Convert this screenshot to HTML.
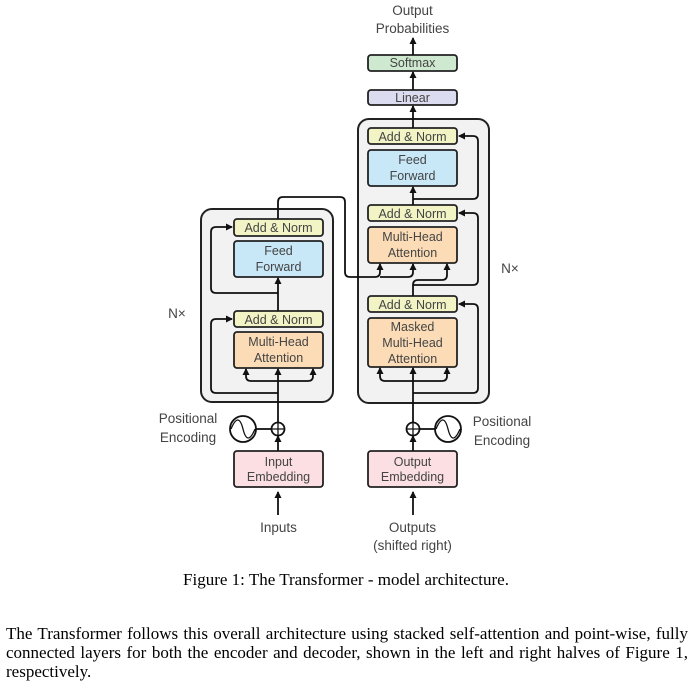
<!DOCTYPE html>
<html><head><meta charset="utf-8"><style>
body{margin:0;background:#fff;width:700px;height:687px;overflow:hidden}
svg{position:absolute;left:0;top:0}
.t{font-family:"Liberation Sans",sans-serif;font-size:12.5px;fill:#444;text-anchor:middle}
.cap{position:absolute;left:0;width:692px;top:570px;text-align:center;font-family:"Liberation Serif",serif;font-size:17px;color:#000}
.par{position:absolute;left:6px;width:682px;top:624px;font-family:"Liberation Serif",serif;font-size:17px;line-height:19px;color:#000}
.j{text-align:justify;text-align-last:justify;white-space:nowrap}
</style></head><body>
<svg width="700" height="600" viewBox="0 0 700 600">
<defs><marker id="a" markerWidth="8" markerHeight="8" refX="6" refY="4" orient="auto" markerUnits="userSpaceOnUse"><path d="M0,0.5 L7,4 L0,7.5 z" fill="#111"/></marker></defs>
<g stroke="#222" stroke-width="2" fill="none">
<rect x="201" y="209" width="132" height="193" rx="11" fill="#f2f2f2"/>
<rect x="358" y="119" width="131" height="284" rx="11" fill="#f2f2f2"/>
</g>
<g stroke="#222" stroke-width="1.8">
<rect x="234" y="219" width="89" height="17" rx="3" fill="#f2f4c6"/>
<rect x="234" y="241" width="89" height="36" rx="3" fill="#c8e8f7"/>
<rect x="234" y="311" width="89" height="16" rx="3" fill="#f2f4c6"/>
<rect x="234" y="332" width="89" height="36" rx="3" fill="#fcdcb6"/>
<rect x="368" y="128" width="89" height="16" rx="3" fill="#f2f4c6"/>
<rect x="368" y="150" width="89" height="36" rx="3" fill="#c8e8f7"/>
<rect x="368" y="205" width="89" height="16" rx="3" fill="#f2f4c6"/>
<rect x="368" y="227" width="89" height="36" rx="3" fill="#fcdcb6"/>
<rect x="368" y="296" width="89" height="16" rx="3" fill="#f2f4c6"/>
<rect x="368" y="318" width="89" height="49" rx="3" fill="#fcdcb6"/>
<rect x="368" y="90" width="89" height="15" rx="3" fill="#dcdcf0"/>
<rect x="368" y="55" width="89" height="16" rx="3" fill="#cfe9d0"/>
<rect x="234" y="451" width="89" height="36" rx="3" fill="#fbdfe2"/>
<rect x="368" y="451" width="89" height="36" rx="3" fill="#fbdfe2"/>
</g>
<g stroke="#111" stroke-width="1.8" fill="none">
<path d="M278 515 V 492" marker-end="url(#a)"/>
<path d="M278 451 V 436" marker-end="url(#a)"/>
<path d="M278 423 V 369" marker-end="url(#a)"/>
<path d="M278 381 H 251 Q246 381 246 376 V 369" marker-end="url(#a)"/>
<path d="M278 381 H 308 Q313 381 313 376 V 369" marker-end="url(#a)"/>
<path d="M278 393 H 216 Q211 393 211 388 V 324 Q211 319 216 319 H 232" marker-end="url(#a)"/>
<path d="M278 311 V 278" marker-end="url(#a)"/>
<path d="M278 293 H 216 Q211 293 211 288 V 232 Q211 227 216 227 H 232" marker-end="url(#a)"/>
<path d="M278 219 V 202 Q278 197 283 197 H 340 Q345 197 345 202 V 272 Q345 277 350 277 H 375 Q380 277 380 272 V 264" marker-end="url(#a)"/>
<path d="M380 277 H 408 Q413 277 413 272 V 264" marker-end="url(#a)"/>
<path d="M413 515 V 492" marker-end="url(#a)"/>
<path d="M413 451 V 436" marker-end="url(#a)"/>
<path d="M413 423 V 368" marker-end="url(#a)"/>
<path d="M413 381 H 385 Q380 381 380 376 V 368" marker-end="url(#a)"/>
<path d="M413 381 H 442 Q447 381 447 376 V 368" marker-end="url(#a)"/>
<path d="M413 393 H 473 Q478 393 478 388 V 309 Q478 304 473 304 H 459" marker-end="url(#a)"/>
<path d="M413 296 V 285 Q413 280 418 280 H 442 Q447 280 447 275 V 264" marker-end="url(#a)"/>
<path d="M413 285 H 473 Q478 285 478 280 V 218 Q478 213 473 213 H 459" marker-end="url(#a)"/>
<path d="M413 205 V 187" marker-end="url(#a)"/>
<path d="M413 199 H 473 Q478 199 478 194 V 141 Q478 136 473 136 H 459" marker-end="url(#a)"/>
<path d="M413 128 V 106" marker-end="url(#a)"/>
<path d="M413 90 V 72" marker-end="url(#a)"/>
<path d="M413 55 V 38" marker-end="url(#a)"/>
<circle cx="278" cy="429" r="6.5" fill="#fff"/>
<path d="M271.5 429 H284.5 M278 422.5 V435.5" stroke-width="1.3"/>
<circle cx="413" cy="429" r="6.5" fill="#fff"/>
<path d="M406.5 429 H419.5 M413 422.5 V435.5" stroke-width="1.3"/>
<path d="M256 429 H271.5"/>
<path d="M419.5 429 H435"/>
<circle cx="243" cy="429" r="13" fill="#fff"/>
<path d="M231 429 C236 417 240 417 243 429 C246 441 250 441 255 429" stroke-width="1.3"/>
<circle cx="448" cy="429" r="13" fill="#fff"/>
<path d="M436 429 C441 417 445 417 448 429 C451 441 455 441 460 429" stroke-width="1.3"/>
</g>
<g class="t">
<text x="278.5" y="232">Add &amp; Norm</text>
<text x="278.5" y="255">Feed</text><text x="278.5" y="271">Forward</text>
<text x="278.5" y="324">Add &amp; Norm</text>
<text x="278.5" y="346">Multi-Head</text><text x="278.5" y="362">Attention</text>
<text x="412.5" y="141">Add &amp; Norm</text>
<text x="412.5" y="164">Feed</text><text x="412.5" y="180">Forward</text>
<text x="412.5" y="218">Add &amp; Norm</text>
<text x="412.5" y="241">Multi-Head</text><text x="412.5" y="257">Attention</text>
<text x="412.5" y="309">Add &amp; Norm</text>
<text x="412.5" y="331">Masked</text><text x="412.5" y="347">Multi-Head</text><text x="412.5" y="363">Attention</text>
<text x="412.5" y="102">Linear</text>
<text x="412.5" y="67">Softmax</text>
<text x="412.5" y="15" style="font-size:13.5px">Output</text>
<text x="412.5" y="33" style="font-size:13.5px">Probabilities</text>
<text x="278.5" y="466">Input</text><text x="278.5" y="481">Embedding</text>
<text x="412.5" y="466">Output</text><text x="412.5" y="481">Embedding</text>
<text x="278.5" y="532" style="font-size:13.5px">Inputs</text>
<text x="412.5" y="532" style="font-size:13.5px">Outputs</text>
<text x="412.5" y="550" style="font-size:13.5px">(shifted right)</text>
<text x="188" y="423" style="font-size:13.5px">Positional</text>
<text x="188" y="442" style="font-size:13.5px">Encoding</text>
<text x="502" y="426" style="font-size:13.5px">Positional</text>
<text x="502" y="445" style="font-size:13.5px">Encoding</text>
<text x="177" y="318" style="font-size:13.5px">N×</text>
<text x="510" y="273" style="font-size:13.5px">N×</text>
</g>
</svg>
<div class="cap">Figure 1: The Transformer - model architecture.</div>
<div class="par"><div class="j">The Transformer follows this overall architecture using stacked self-attention and point-wise, fully</div><div class="j">connected layers for both the encoder and decoder, shown in the left and right halves of Figure 1,</div><div>respectively.</div></div>
</body></html>
